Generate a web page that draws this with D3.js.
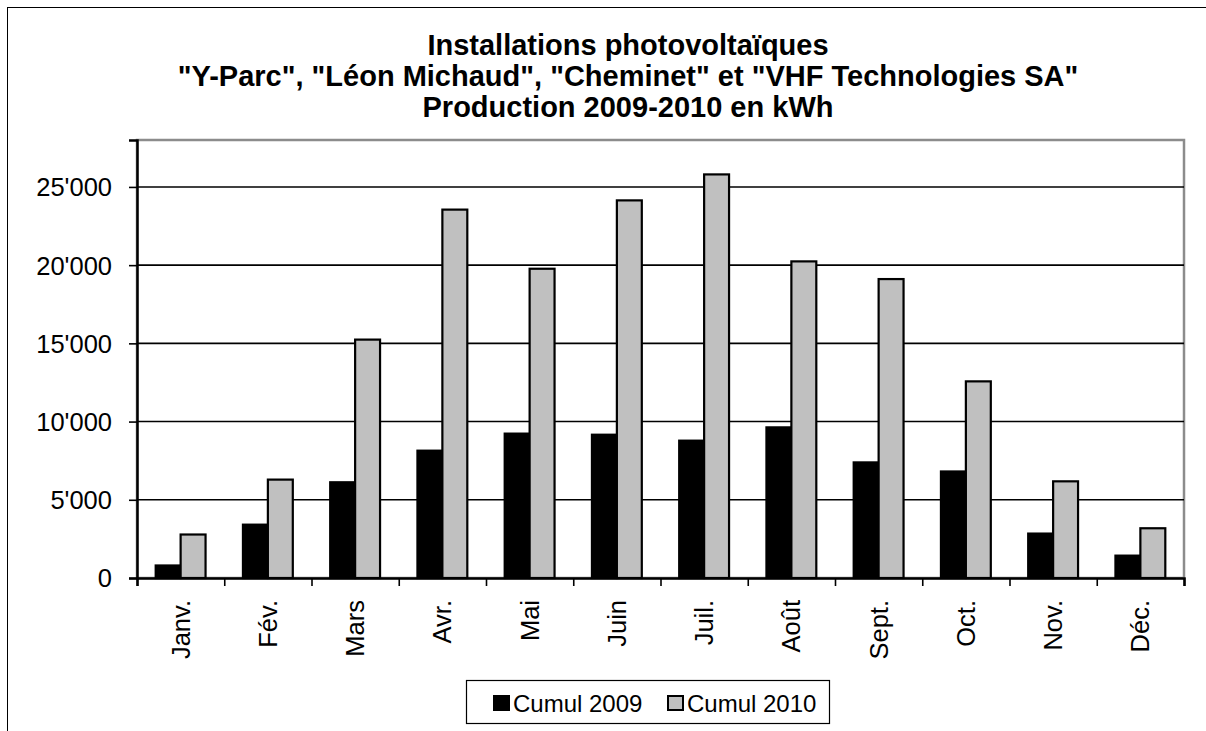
<!DOCTYPE html>
<html>
<head>
<meta charset="utf-8">
<script src="https://cdn.jsdelivr.net/npm/d3@7"></script>
<style>
  body { margin: 0; background: #fff; }
  svg { display: block; font-family: Arial, "Liberation Sans", sans-serif; }
</style>
</head>
<body>
<svg id="chart" width="1206" height="731"></svg>
<script>
// values (kWh)
const months = ["Janv.", "Fév.", "Mars", "Avr.", "Mai", "Juin", "Juil.", "Août", "Sept.", "Oct.", "Nov.", "Déc."];
const seriesNames = ["Cumul 2009", "Cumul 2010"];
const cumul2009 = [800, 3410, 6120, 8140, 9230, 9160, 8780, 9630, 7390, 6810, 2840, 1430];
const cumul2010 = [2780, 6290, 15240, 23550, 19770, 24140, 25800, 20240, 19110, 12570, 6180, 3180];
const yTicks = [0, 5000, 10000, 15000, 20000, 25000];
const titleLines = [
    "Installations photovoltaïques",
    "\"Y-Parc\", \"Léon Michaud\", \"Cheminet\" et \"VHF Technologies SA\"",
    "Production 2009-2010 en kWh"
];

const colors = d3.scaleOrdinal().domain(seriesNames).range(["#000000", "#c0c0c0"]);

const svg = d3.select("#chart");
const plot = { left: 137, right: 1184, top: 140, bottom: 578 };

// swiss thousands separator
const fmt = d3.formatLocale({ decimal: ".", thousands: "'", grouping: [3], currency: ["", ""] }).format(",");

// outer chart frame, only left and top edges are inside the picture
svg.append("rect")
    .attr("x", 7.5).attr("y", 7.5)
    .attr("width", 1400).attr("height", 900)
    .attr("fill", "none").attr("stroke", "#000").attr("stroke-width", 1);

// title
svg.append("text")
    .attr("x", 628).attr("y", 55)
    .attr("text-anchor", "middle")
    .style("font-size", "29px").style("font-weight", "bold")
    .selectAll("tspan")
    .data(titleLines)
    .enter().append("tspan")
    .attr("x", 628)
    .attr("dy", (d, i) => i === 0 ? 0 : 31)
    .text(d => d);

const x = d3.scaleBand().domain(months).range([plot.left, plot.right]).padding(0);
const xSub = d3.scaleBand().domain(seriesNames).range([0, x.bandwidth()]).paddingInner(0).paddingOuter(0.75);
const y = d3.scaleLinear().domain([0, 28000]).range([plot.bottom, plot.top]);

// plot area frame (grey)
svg.append("rect")
    .attr("x", plot.left).attr("y", plot.top)
    .attr("width", plot.right - plot.left).attr("height", plot.bottom - plot.top)
    .attr("fill", "#fff").attr("stroke", "#8c8c8c").attr("stroke-width", 2.5);

// gridlines
svg.append("g")
    .selectAll("line")
    .data(yTicks.filter(d => d > 0))
    .enter().append("line")
    .attr("x1", plot.left).attr("x2", plot.right)
    .attr("y1", d => y(d)).attr("y2", d => y(d))
    .attr("stroke", "#000").attr("stroke-width", 1.6);

// bars
const rows = months.map((m, i) => ({ month: m, values: [cumul2009[i], cumul2010[i]] }));
const groups = svg.append("g").selectAll("g")
    .data(rows)
    .enter().append("g")
    .attr("transform", d => `translate(${x(d.month)},0)`);

groups.selectAll("rect")
    .data(d => d.values.map((v, k) => ({ name: seriesNames[k], value: v })))
    .enter().append("rect")
    .attr("x", d => xSub(d.name))
    .attr("width", xSub.bandwidth())
    .attr("y", d => y(d.value))
    .attr("height", d => y(0) - y(d.value))
    .attr("fill", d => colors(d.name))
    .attr("stroke", "#000").attr("stroke-width", 2.2);

// y axis
const yAxis = svg.append("g")
    .attr("transform", `translate(${plot.left},0)`)
    .call(d3.axisLeft(y).tickValues(yTicks).tickSize(8).tickPadding(17).tickFormat(fmt));
yAxis.select(".domain").attr("stroke", "#000").attr("stroke-width", 2.5);
yAxis.selectAll(".tick line").attr("stroke", "#000").attr("stroke-width", 1.6);
yAxis.selectAll("text").style("font-size", "25.5px").attr("fill", "#000").attr("dy", "0.35em");
yAxis.attr("font-family", null);

// x axis: tick marks on the category boundaries
const xEdge = d3.scaleLinear().domain([0, months.length]).range([plot.left, plot.right]);
const xTicks = svg.append("g")
    .attr("transform", `translate(0,${plot.bottom})`)
    .call(d3.axisBottom(xEdge).ticks(months.length).tickSize(8).tickFormat(""));
xTicks.select(".domain").attr("stroke", "#000").attr("stroke-width", 2.5);
xTicks.selectAll(".tick line").attr("stroke", "#000").attr("stroke-width", 1.6);

// month labels, rotated
const xAxis = svg.append("g")
    .attr("transform", `translate(0,${plot.bottom})`)
    .call(d3.axisBottom(x).tickSize(0));
xAxis.select(".domain").remove();
xAxis.attr("font-family", null);
xAxis.selectAll("text")
    .style("font-size", "25.5px").attr("fill", "#000")
    .attr("transform", "rotate(-90)")
    .attr("text-anchor", "end")
    .attr("x", -22).attr("y", 0).attr("dy", "0.35em");

// legend
const legend = svg.append("g");
legend.append("rect")
    .attr("x", 466.5).attr("y", 680.5).attr("width", 363).attr("height", 43)
    .attr("fill", "#fff").attr("stroke", "#000").attr("stroke-width", 1.2);
const items = legend.selectAll(".item")
    .data(seriesNames)
    .enter().append("g")
    .attr("class", "item")
    .attr("transform", (d, i) => `translate(${[494, 668][i]},696)`);
items.append("rect")
    .attr("width", 15).attr("height", 14)
    .attr("fill", d => colors(d)).attr("stroke", "#000").attr("stroke-width", 2);
items.append("text")
    .attr("x", 19).attr("y", 15.5)
    .style("font-size", "24px")
    .text(d => d);
</script>
</body>
</html>
